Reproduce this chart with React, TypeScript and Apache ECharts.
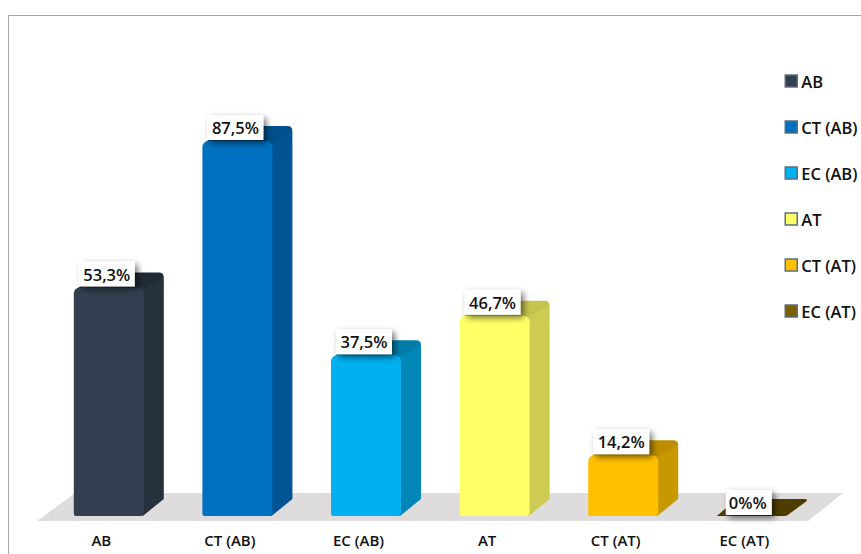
import React, { useEffect, useRef } from "react";
import * as echarts from "echarts";

const categories = ["AB", "CT (AB)", "EC (AB)", "AT", "CT (AT)", "EC (AT)"];
const values = [53.3, 87.5, 37.5, 46.7, 14.2, 0];
const valueLabels = ["53,3%", "87,5%", "37,5%", "46,7%", "14,2%", "0%%"];
const frontColors = ["#333F50", "#0070C0", "#00B0F0", "#FFFF66", "#FFC000", "#7F6000"];
const sideColors = ["#27303D", "#005493", "#0086B7", "#CCCC52", "#C89800", "#5E4700"];
const topColors = ["#222A36", "#004F8A", "#007DAB", "#C4C44E", "#BD8F00", "#4F3C00"];

const FONT = '"Open Sans", sans-serif';
const BAR_W = 70;
const OFFSET_X = 7.5;
const DEPTH_X = 20;
const DEPTH_Y = 15;

function renderBar(i: number) {
  return (_params: any, api: any) => {
    const base = api.coord([api.value(0), 0]);
    const top = api.coord([api.value(0), api.value(1)]);
    const x0 = base[0] - BAR_W / 2 + OFFSET_X;
    const x1 = x0 + BAR_W;
    const yB = base[1];
    const yT = top[1];
    const h = yB - yT;
    const r = Math.min(6, h / 2);
    const xR = x1 + DEPTH_X;
    const yBack = yT - DEPTH_Y;
    const flat = h <= 1;
    const children: any[] = [];
    // top face (drawn first, so the side and front overlap it)
    children.push({
      type: "path",
      shape: {
        pathData: flat
          ? `M${x0} ${yT}L${x0 + DEPTH_X} ${yBack - 2}L${xR - 3} ${yBack - 2}Q${xR + 1} ${yBack - 2} ${xR} ${yBack}L${x1 + 1} ${yT - 1}Q${x1} ${yT} ${x1 - 3} ${yT}Z`
          : `M${x0 + 3} ${yT + 2}L${x0 + DEPTH_X - 3} ${yBack + 2}Q${x0 + DEPTH_X} ${yBack} ${x0 + DEPTH_X + 3} ${yBack}L${xR - 5} ${yBack}Q${xR} ${yBack} ${xR} ${yBack + 5}L${x1} ${yT + 6}L${x0 + 4} ${yT + 6}Z`,
      },
      style: { fill: topColors[i] },
    });
    if (!flat) {
      // side face
      children.push({
        type: "path",
        shape: {
          pathData: `M${x1 - 2} ${yT + 2}L${xR} ${yBack + 5}L${xR} ${yB - DEPTH_Y - 2}L${x1 - 1} ${yB}L${x1 - 2} ${yB}Z`,
        },
        style: { fill: sideColors[i] },
      });
      // front face
      children.push({
        type: "rect",
        shape: { x: x0, y: yT, width: BAR_W, height: h, r: [r, r, 4, 2] },
        style: { fill: frontColors[i] },
      });
    }
    // value label box
    const zero = i === 5;
    const bw = zero ? 46 : 56;
    const bh = 25;
    const bx = zero ? x0 + 9 : x0 + 5;
    const by = zero ? yT - 26 : yT - bh - 1;
    children.push({
      type: "rect",
      shape: { x: bx, y: by, width: bw, height: bh },
      style: {
        fill: "#ffffff",
        shadowBlur: 6,
        shadowOffsetX: 3,
        shadowOffsetY: 3,
        shadowColor: "rgba(0,0,0,0.55)",
      },
    });
    children.push({
      type: "text",
      style: {
        x: zero ? x0 + 31 : x0 + 33,
        y: by + bh / 2,
        text: valueLabels[i],
        fill: "#111111",
        font: `600 16.5px ${FONT}`,
        align: "center",
        verticalAlign: "middle",
      },
    });
    return { type: "group", children };
  };
}

export default function App() {
  const ref = useRef<HTMLDivElement>(null);
  useEffect(() => {
    const chart = echarts.init(ref.current!, undefined, { renderer: "svg" });
    chart.setOption({
      animation: false,
      backgroundColor: "#ffffff",
      grid: { left: 37, right: 52.4, top: 87.4, bottom: 38 },
      xAxis: {
        type: "category",
        data: categories,
        axisLine: { show: false },
        axisTick: { show: false },
        axisLabel: {
          margin: 16,
          fontFamily: FONT,
          fontWeight: 600,
          fontSize: 15,
          color: "#111111",
        },
      },
      yAxis: { type: "value", min: 0, max: 100, show: false, splitLine: { show: false } },
      legend: {
        orient: "vertical",
        left: 784.5,
        top: 71,
        padding: 0,
        icon: "rect",
        itemWidth: 12,
        itemHeight: 12,
        itemGap: 26,
        data: categories,
        itemStyle: { borderColor: "#5E6E7C", borderWidth: 1.5 },
        textStyle: {
          fontFamily: FONT,
          fontWeight: 600,
          fontSize: 16.5,
          lineHeight: 20,
          color: "#111111",
          padding: [0, 0, 0, -1],
        },
      },
      graphic: [
        {
          type: "polyline",
          z: 0,
          shape: { points: [[8.5, 554], [8.5, 15.5], [861, 15.5]] },
          style: { stroke: "#A6A6A6", fill: "none", lineWidth: 1 },
        },
        {
          type: "polygon",
          z: 0,
          shape: { points: [[37, 521], [75, 493], [843, 493], [808, 521]] },
          style: { fill: "#DEDCDD" },
        },
      ],
      series: categories.map((name, i) => ({
        type: "custom",
        name,
        coordinateSystem: "cartesian2d",
        itemStyle: { color: frontColors[i] },
        encode: { x: 0, y: 1 },
        data: [[i, values[i]]],
        renderItem: renderBar(i),
        clip: false,
      })),
    });
    return () => chart.dispose();
  }, []);
  return (
    <div
      ref={ref}
      style={{ position: "absolute", left: 0, top: 0, width: 861, height: 554 }}
    />
  );
}
